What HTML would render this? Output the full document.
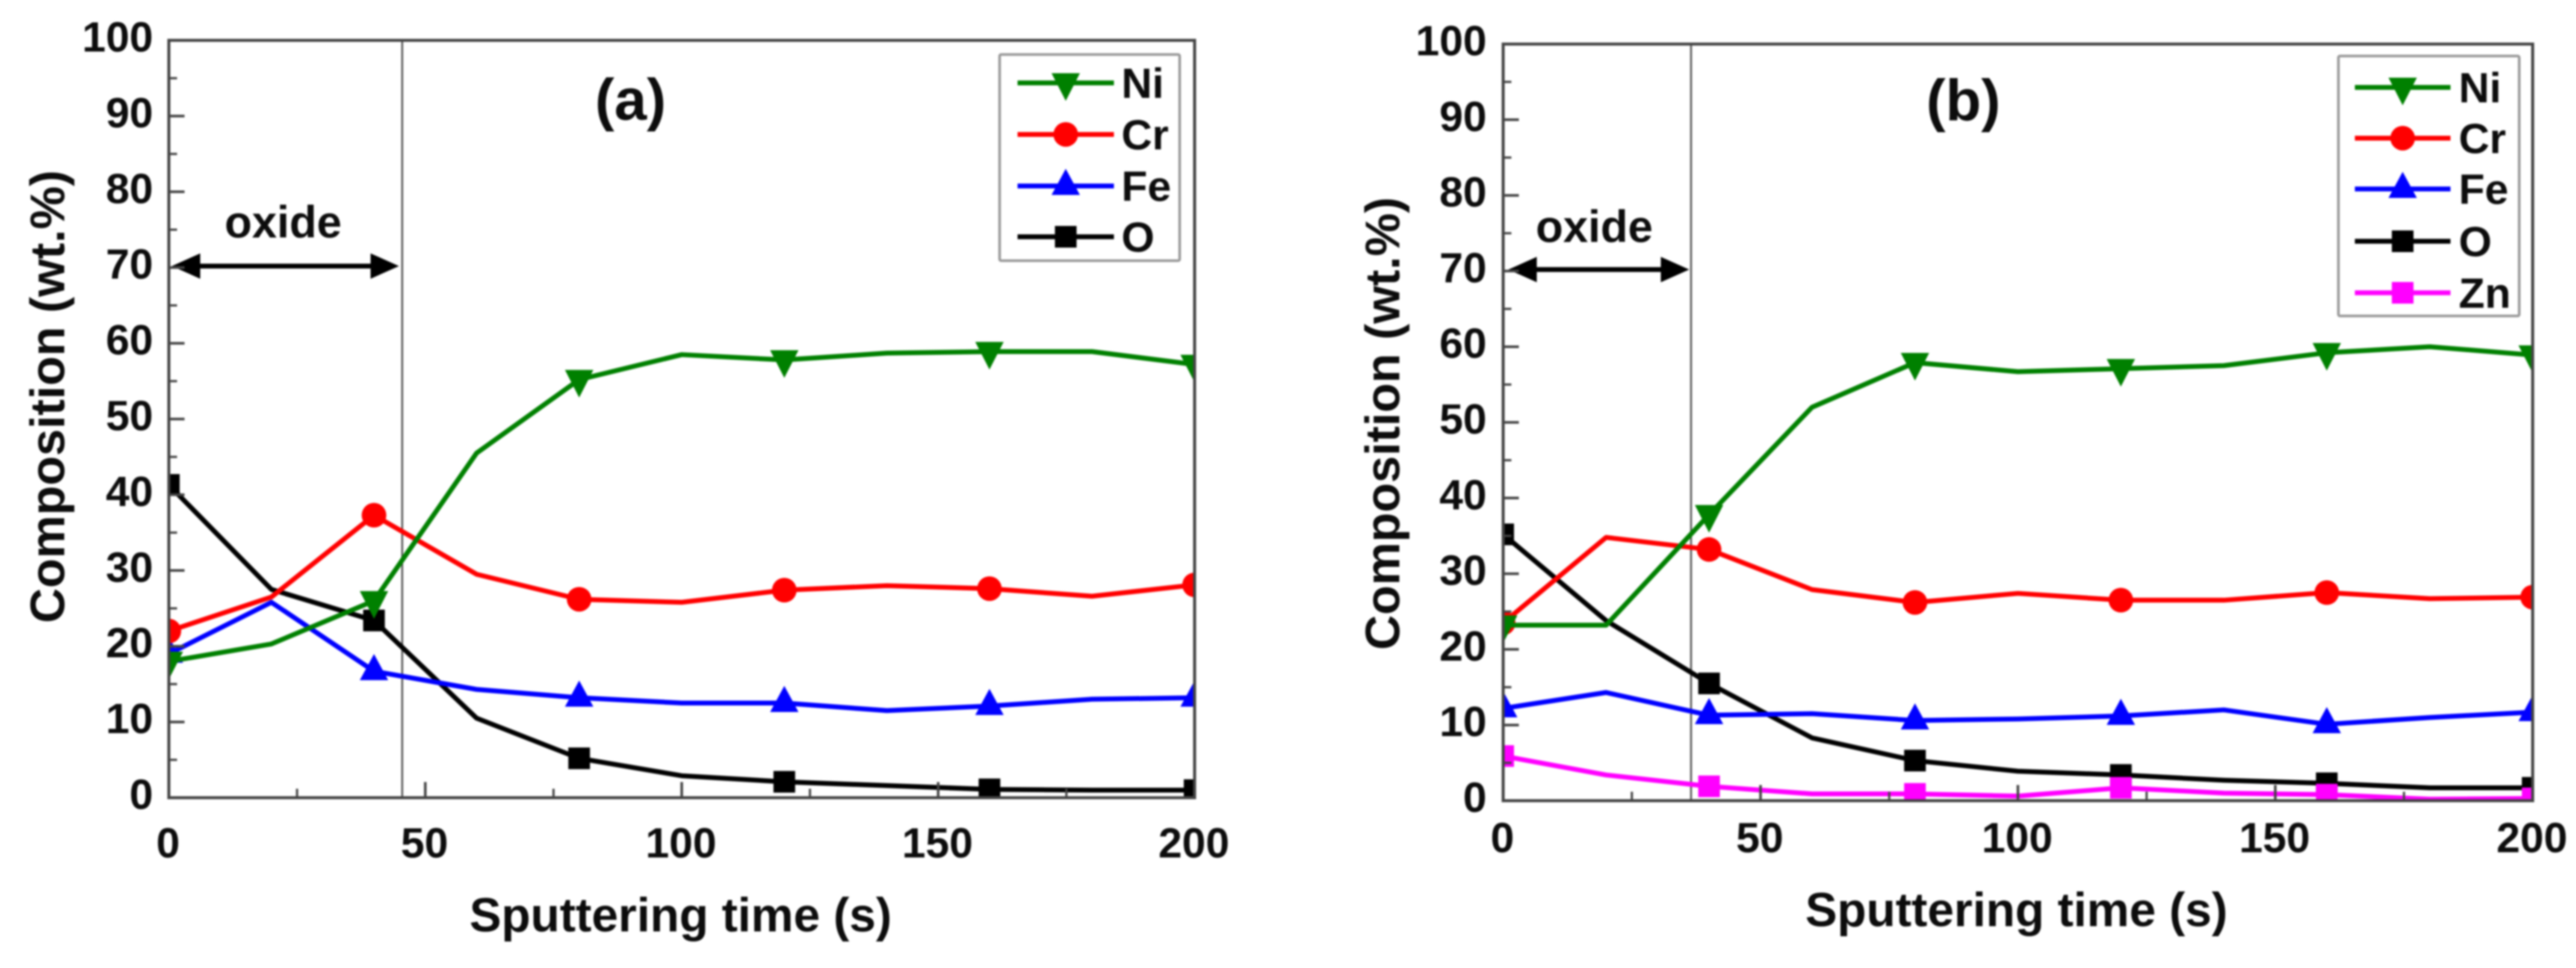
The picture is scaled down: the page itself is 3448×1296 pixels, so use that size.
<!DOCTYPE html>
<html lang="en">
<head>
<meta charset="utf-8">
<title>Composition vs sputtering time</title>
<style>
html,body{margin:0;padding:0;background:#fff;width:3448px;height:1296px;overflow:hidden}
svg{display:block;filter:blur(1.3px)}
text{font-family:"Liberation Sans",sans-serif;font-weight:bold;fill:#0c0c0c}
</style>
</head>
<body>
<svg id="chart" xmlns="http://www.w3.org/2000/svg" width="3448" height="1296" viewBox="0 0 3448 1296">
<rect width="3448" height="1296" fill="#fff"/>
<defs>
<clipPath id="clip-a"><rect x="224" y="52" width="1377" height="1018"/></clipPath>
<clipPath id="clip-b"><rect x="2010" y="57" width="1382" height="1017"/></clipPath>
</defs>
<g id="panel-a">
<text x="844" y="160" font-size="78" text-anchor="middle">(a)</text>
<text x="911" y="1247" font-size="64" text-anchor="middle">Sputtering time (s)</text>
<text transform="translate(86 531) rotate(-90)" font-size="65" text-anchor="middle">Composition (wt.%)</text>
<text x="379" y="318" font-size="60" text-anchor="middle">oxide</text>
</g>
<g id="panel-b">
<text x="2628" y="161" font-size="78" text-anchor="middle">(b)</text>
<text x="2699" y="1240" font-size="64" text-anchor="middle">Sputtering time (s)</text>
<text transform="translate(1873 567) rotate(-90)" font-size="65" text-anchor="middle">Composition (wt.%)</text>
<text x="2134" y="324" font-size="60" text-anchor="middle">oxide</text>
</g>
</svg>
<script>
const times = [0, 20, 40, 60, 80, 100, 120, 140, 160, 180, 200];
const xTickLabels = [0, 50, 100, 150, 200];
const yTickLabels = [0, 10, 20, 30, 40, 50, 60, 70, 80, 90, 100];
const oxideBoundaryA = 45.5;
const oxideBoundaryB = 36.5;

const niA = [18, 20.3, 26, 45.5, 55.2, 58.5, 57.8, 58.7, 58.9, 58.9, 57.2];
const crA = [22, 26.5, 37.3, 29.5, 26.2, 25.8, 27.4, 28, 27.6, 26.6, 28.1];
const feA = [19, 25.8, 16.7, 14.3, 13.2, 12.5, 12.5, 11.5, 12.1, 13, 13.2];
const oA = [41.3, 27.5, 23.4, 10.5, 5.2, 2.9, 2.1, 1.6, 1.1, 1, 1];

const niB = [23.2, 23.2, 37.8, 52, 57.9, 56.7, 57.1, 57.5, 59.2, 60, 58.9];
const crB = [23.5, 34.8, 33.2, 27.9, 26.2, 27.4, 26.5, 26.5, 27.5, 26.7, 26.9];
const feB = [12.2, 14.3, 11.3, 11.5, 10.6, 10.8, 11.2, 12, 10.1, 11, 11.7];
const oB = [35.2, 23.8, 15.5, 8.3, 5.3, 3.9, 3.4, 2.7, 2.3, 1.7, 1.7];
const znB = [5.9, 3.4, 1.9, 0.9, 0.9, 0.6, 1.7, 1, 0.8, 0.2, 0.3];

const NS = 'http://www.w3.org/2000/svg';
const GREEN = '#008000', RED = '#ff0000', BLUE = '#0000ff', BLACK = '#000000', MAGENTA = '#ff00ff', AXIS = '#444444';

function make(tag, parent, attrs) {
  const el = document.createElementNS(NS, tag);
  for (const k in attrs) el.setAttribute(k, attrs[k]);
  parent.appendChild(el);
  return el;
}

function marker(parent, kind, cx, cy, color, label) {
  let el;
  if (kind === 'down') {
    el = make('polygon', parent, { points: `${cx-19},${cy-13} ${cx+19},${cy-13} ${cx},${cy+24}`, fill: color });
  } else if (kind === 'up') {
    el = make('polygon', parent, { points: `${cx-19},${cy+12} ${cx+19},${cy+12} ${cx},${cy-23}`, fill: color });
  } else if (kind === 'circle') {
    el = make('circle', parent, { cx: cx, cy: cy, r: 16.5, fill: color });
  } else {
    el = make('rect', parent, { x: cx-14.5, y: cy-14.5, width: 29, height: 29, fill: color });
  }
  
  
}

function drawPanel(p) {
  const root = document.getElementById(p.id);
  const sx = v => p.left + (v / 200) * (p.right - p.left);
  const sy = v => p.bottom - (v / 100) * (p.bottom - p.top);

  // oxide boundary
  const boundary = make('line', root, { x1: sx(p.boundary), x2: sx(p.boundary), y1: p.top, y2: p.bottom, stroke: '#555', 'stroke-width': 2.5 });
  
  

  // oxide arrow
  const ay = sy(70) - 2;
  const arrow = make('g', root, {});
  
  
  make('line', arrow, { x1: p.arrowL + 20, x2: p.arrowR - 20, y1: ay, y2: ay, stroke: '#000', 'stroke-width': 6.5 });
  make('polygon', arrow, { points: `${p.arrowL},${ay} ${p.arrowL+38},${ay-17} ${p.arrowL+38},${ay+17}`, fill: '#000' });
  make('polygon', arrow, { points: `${p.arrowR},${ay} ${p.arrowR-38},${ay-17} ${p.arrowR-38},${ay+17}`, fill: '#000' });

  // series
  const plot = make('g', root, { 'clip-path': `url(#${p.clip})` });
  
  
  p.series.forEach(s => {
    const group = make('g', plot, {});
    
    
    const pts = times.map((t, i) => sx(t) + ',' + sy(s.values[i])).join(' ');
    const line = make('polyline', group, { points: pts, fill: 'none', stroke: s.color, 'stroke-width': 6.5, 'stroke-linejoin': 'round' });
    
    
    times.forEach((t, i) => {
      if (i % 2 === 0) marker(group, s.kind, sx(t), sy(s.values[i]), s.color, s.name.toLowerCase() + '-point');
    });
  });

  // frame
  const frame = make('rect', root, { x: p.left, y: p.top, width: p.right - p.left, height: p.bottom - p.top, fill: 'none', stroke: AXIS, 'stroke-width': 4 });
  
  

  // y ticks
  yTickLabels.forEach(v => {
    const tick = make('line', root, { x1: p.left, x2: p.left + 21, y1: sy(v), y2: sy(v), stroke: AXIS, 'stroke-width': 3.5 });
    
    
    const label = make('text', root, { x: p.yLabelX, y: sy(v) + 15, 'font-size': 57, 'text-anchor': 'end' });
    label.textContent = v;
    
    
    if (v < 100) {
      const minor = make('line', root, { x1: p.left, x2: p.left + 11, y1: sy(v + 5), y2: sy(v + 5), stroke: AXIS, 'stroke-width': 3 });
      
      
    }
  });

  // x ticks
  xTickLabels.forEach(v => {
    const tick = make('line', root, { x1: sx(v), x2: sx(v), y1: p.bottom, y2: p.bottom - 21, stroke: AXIS, 'stroke-width': 3.5 });
    
    
    const label = make('text', root, { x: sx(v) - 1, y: p.xLabelY, 'font-size': 57, 'text-anchor': 'middle' });
    label.textContent = v;
    
    
    if (v < 200) {
      const minor = make('line', root, { x1: sx(v + 25), x2: sx(v + 25), y1: p.bottom, y2: p.bottom - 12, stroke: AXIS, 'stroke-width': 3 });
      
      
    }
  });

  // legend
  const lg = make('g', root, {});
  
  
  make('rect', lg, { x: p.lg.x, y: p.lg.y, width: p.lg.w, height: p.lg.h, fill: '#fff', stroke: '#999', 'stroke-width': 3.5, rx: 2 });
  p.legendOrder.forEach((s, i) => {
    const ry = p.lg.rows[i];
    const entry = make('g', lg, {});
    
    
    make('line', entry, { x1: p.lg.lineL, x2: p.lg.lineR, y1: ry, y2: ry, stroke: s.color, 'stroke-width': 6.5 });
    marker(entry, s.kind, (p.lg.lineL + p.lg.lineR) / 2, ry, s.color, 'legend-marker-' + s.name.toLowerCase());
    const t = make('text', entry, { x: p.lg.textX, y: ry + 20, 'font-size': 57 });
    t.textContent = s.name;
    
    
  });
}

const seriesA = {
  ni: { name: 'Ni', values: niA, color: GREEN, kind: 'down' },
  cr: { name: 'Cr', values: crA, color: RED, kind: 'circle' },
  fe: { name: 'Fe', values: feA, color: BLUE, kind: 'up' },
  o: { name: 'O', values: oA, color: BLACK, kind: 'square' }
};
const seriesB = {
  ni: { name: 'Ni', values: niB, color: GREEN, kind: 'down' },
  cr: { name: 'Cr', values: crB, color: RED, kind: 'circle' },
  fe: { name: 'Fe', values: feB, color: BLUE, kind: 'up' },
  o: { name: 'O', values: oB, color: BLACK, kind: 'square' },
  zn: { name: 'Zn', values: znB, color: MAGENTA, kind: 'square' }
};

drawPanel({
  id: 'panel-a', clip: 'clip-a', left: 226, right: 1599, top: 54, bottom: 1068,
  boundary: oxideBoundaryA, arrowL: 230, arrowR: 534, yLabelX: 205, xLabelY: 1148,
  series: [seriesA.o, seriesA.fe, seriesA.cr, seriesA.ni],
  legendOrder: [seriesA.ni, seriesA.cr, seriesA.fe, seriesA.o],
  lg: { x: 1338, y: 73, w: 241, h: 276, rows: [111, 180, 249, 317], lineL: 1362, lineR: 1491, textX: 1501 }
});

drawPanel({
  id: 'panel-b', clip: 'clip-b', left: 2012, right: 3390, top: 59, bottom: 1072,
  boundary: oxideBoundaryB, arrowL: 2019, arrowR: 2261, yLabelX: 1990, xLabelY: 1141,
  series: [seriesB.o, seriesB.zn, seriesB.fe, seriesB.cr, seriesB.ni],
  legendOrder: [seriesB.ni, seriesB.cr, seriesB.fe, seriesB.o, seriesB.zn],
  lg: { x: 3130, y: 75, w: 242, h: 348, rows: [117, 185, 253, 323, 392], lineL: 3152, lineR: 3280, textX: 3291 }
});
</script>
</body>
</html>
